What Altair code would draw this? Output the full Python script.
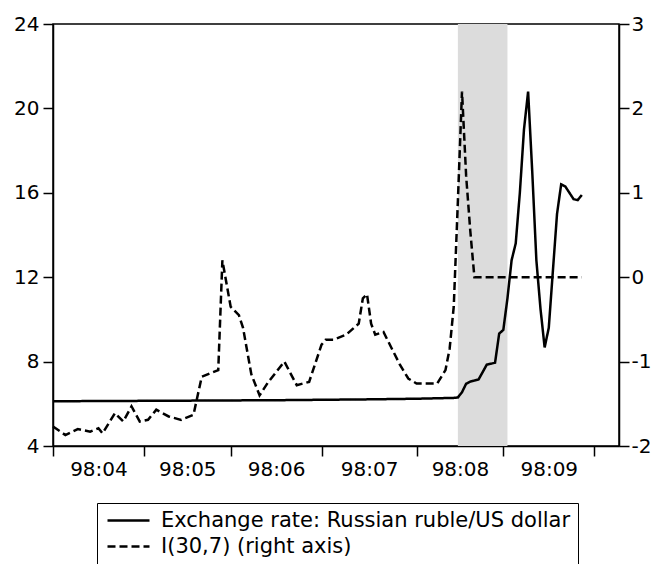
import altair as alt
import pandas as pd

# month labels and the business-day index at which each month starts
month_labels = ["98:04", "98:05", "98:06", "98:07", "98:08", "98:09"]
month_starts = [0, 22, 43, 65, 88, 109, 131]

# shaded crisis window (business-day index)
shade_start = [98]
shade_end = [110]

# exchange rate, rubles per US dollar (left axis)
rate_idx = [0, 10, 22, 33, 43, 54, 65, 76, 88, 97, 98, 99, 100, 101, 102, 103,
            104, 105, 106, 107, 108, 109, 110, 111, 112, 113, 114, 115, 116,
            117, 118, 119, 120, 121, 122, 123, 124, 125, 126, 127, 128]
rate_val = [6.12, 6.13, 6.14, 6.15, 6.16, 6.17, 6.19, 6.21, 6.24, 6.28, 6.30,
            6.55, 6.95, 7.05, 7.10, 7.15, 7.50, 7.86, 7.90, 7.95, 9.33, 9.50,
            11.0, 12.8, 13.6, 16.0, 19.0, 20.8, 17.0, 12.8, 10.5, 8.67, 9.6,
            12.3, 15.0, 16.4, 16.3, 16.0, 15.7, 15.65, 15.9]

# I(30,7) indicator (right axis)
ind_idx = [0, 3, 6, 9, 11, 12, 15, 17, 19, 21, 23, 25, 28, 31, 34, 36, 40, 41,
           43, 45, 46, 48, 50, 52, 56, 59, 62, 65, 66, 68, 71, 74, 75, 76, 77,
           78, 80, 84, 86, 88, 93, 95, 96, 97, 98, 99, 100, 101, 102, 110,
           120, 128]
ind_val = [-1.77, -1.87, -1.80, -1.83, -1.79, -1.85, -1.61, -1.71, -1.53,
           -1.71, -1.69, -1.57, -1.65, -1.69, -1.63, -1.18, -1.10, 0.20,
           -0.35, -0.45, -0.60, -1.15, -1.40, -1.25, -1.00, -1.28, -1.24,
           -0.80, -0.74, -0.74, -0.68, -0.55, -0.25, -0.20, -0.55, -0.68,
           -0.65, -1.04, -1.20, -1.26, -1.26, -1.10, -0.85, -0.35, 0.90,
           2.20, 1.20, 0.55, 0.0, 0.0, 0.0, 0.0]

series_names = ["Exchange rate: Russian ruble/US dollar", "I(30,7) (right axis)"]

rate_df = pd.DataFrame({"idx": rate_idx, "value": rate_val, "series": series_names[0]})
ind_df = pd.DataFrame({"idx": ind_idx, "value": ind_val, "series": series_names[1]})
shade_df = pd.DataFrame({"start": shade_start, "end": shade_end})

mids = [(a + b) / 2 for a, b in zip(month_starts[:-1], month_starts[1:])]

x_scale = alt.Scale(domain=[0, 137], nice=False, zero=False)
x_axis = alt.Axis(
    values=month_starts + mids,
    title=None,
    labelExpr=f"indexof({mids}, datum.value) >= 0 ? {month_labels}[indexof({mids}, datum.value)] : ''",
    labelOverlap=False,
    labelPadding=3,
    tickOpacity={"condition": {"test": f"indexof({month_starts}, datum.value) >= 0", "value": 1}, "value": 0},
)

dash_scale = alt.Scale(domain=series_names, range=[[1, 0], [8, 4]])
legend = alt.Legend(
    title=None,
    orient="none",
    legendX=44,
    legendY=479,
    direction="vertical",
    strokeColor="black",
    fillColor="white",
    padding=7,
    rowPadding=4,
    labelFontSize=21,
    labelLimit=600,
    labelOffset=36,
    symbolType="M-1,0H5",
    symbolSize=196,
    symbolStrokeWidth=2.5,
    symbolStrokeColor="black",
)

shade = alt.Chart(shade_df).mark_rect(color="#dcdcdc").encode(
    x=alt.X("start:Q", scale=x_scale, axis=x_axis),
    x2="end:Q",
)

rate_line = alt.Chart(rate_df).mark_line(color="black", strokeWidth=2.5).encode(
    x=alt.X("idx:Q", scale=x_scale, axis=x_axis),
    y=alt.Y("value:Q", scale=alt.Scale(domain=[4, 24], nice=False, zero=False),
            axis=alt.Axis(orient="left", values=[4, 8, 12, 16, 20, 24], title=None, labelPadding=4)),
    strokeDash=alt.StrokeDash("series:N", scale=dash_scale, legend=legend),
)

ind_line = alt.Chart(ind_df).mark_line(color="black", strokeWidth=2.5).encode(
    x=alt.X("idx:Q", scale=x_scale, axis=x_axis),
    y=alt.Y("value:Q", scale=alt.Scale(domain=[-2, 3], nice=False, zero=False),
            axis=alt.Axis(orient="right", values=[-2, -1, 0, 1, 2, 3], title=None,
                          labelExpr="'' + datum.value", labelPadding=2)),
    strokeDash=alt.StrokeDash("series:N", scale=dash_scale, legend=legend),
)

chart = alt.layer(shade, rate_line, ind_line).resolve_scale(
    y="independent"
).properties(
    width=566,
    height=422,
    autosize=alt.AutoSizeParams(type="none"),
    padding={"left": 45, "top": 16, "right": 34, "bottom": 118},
).configure_view(
    stroke="black", strokeWidth=1.5
).configure_axis(
    grid=False,
    domainColor="black",
    domainWidth=1.5,
    tickColor="black",
    tickWidth=1.5,
    tickSize=10,
    labelColor="black",
    labelFont="DejaVu Sans",
    labelFontSize=20,
).configure_legend(
    labelFont="DejaVu Sans",
    labelColor="black",
)

chart.save("out.html", embed_options={"renderer": "svg", "actions": False})
